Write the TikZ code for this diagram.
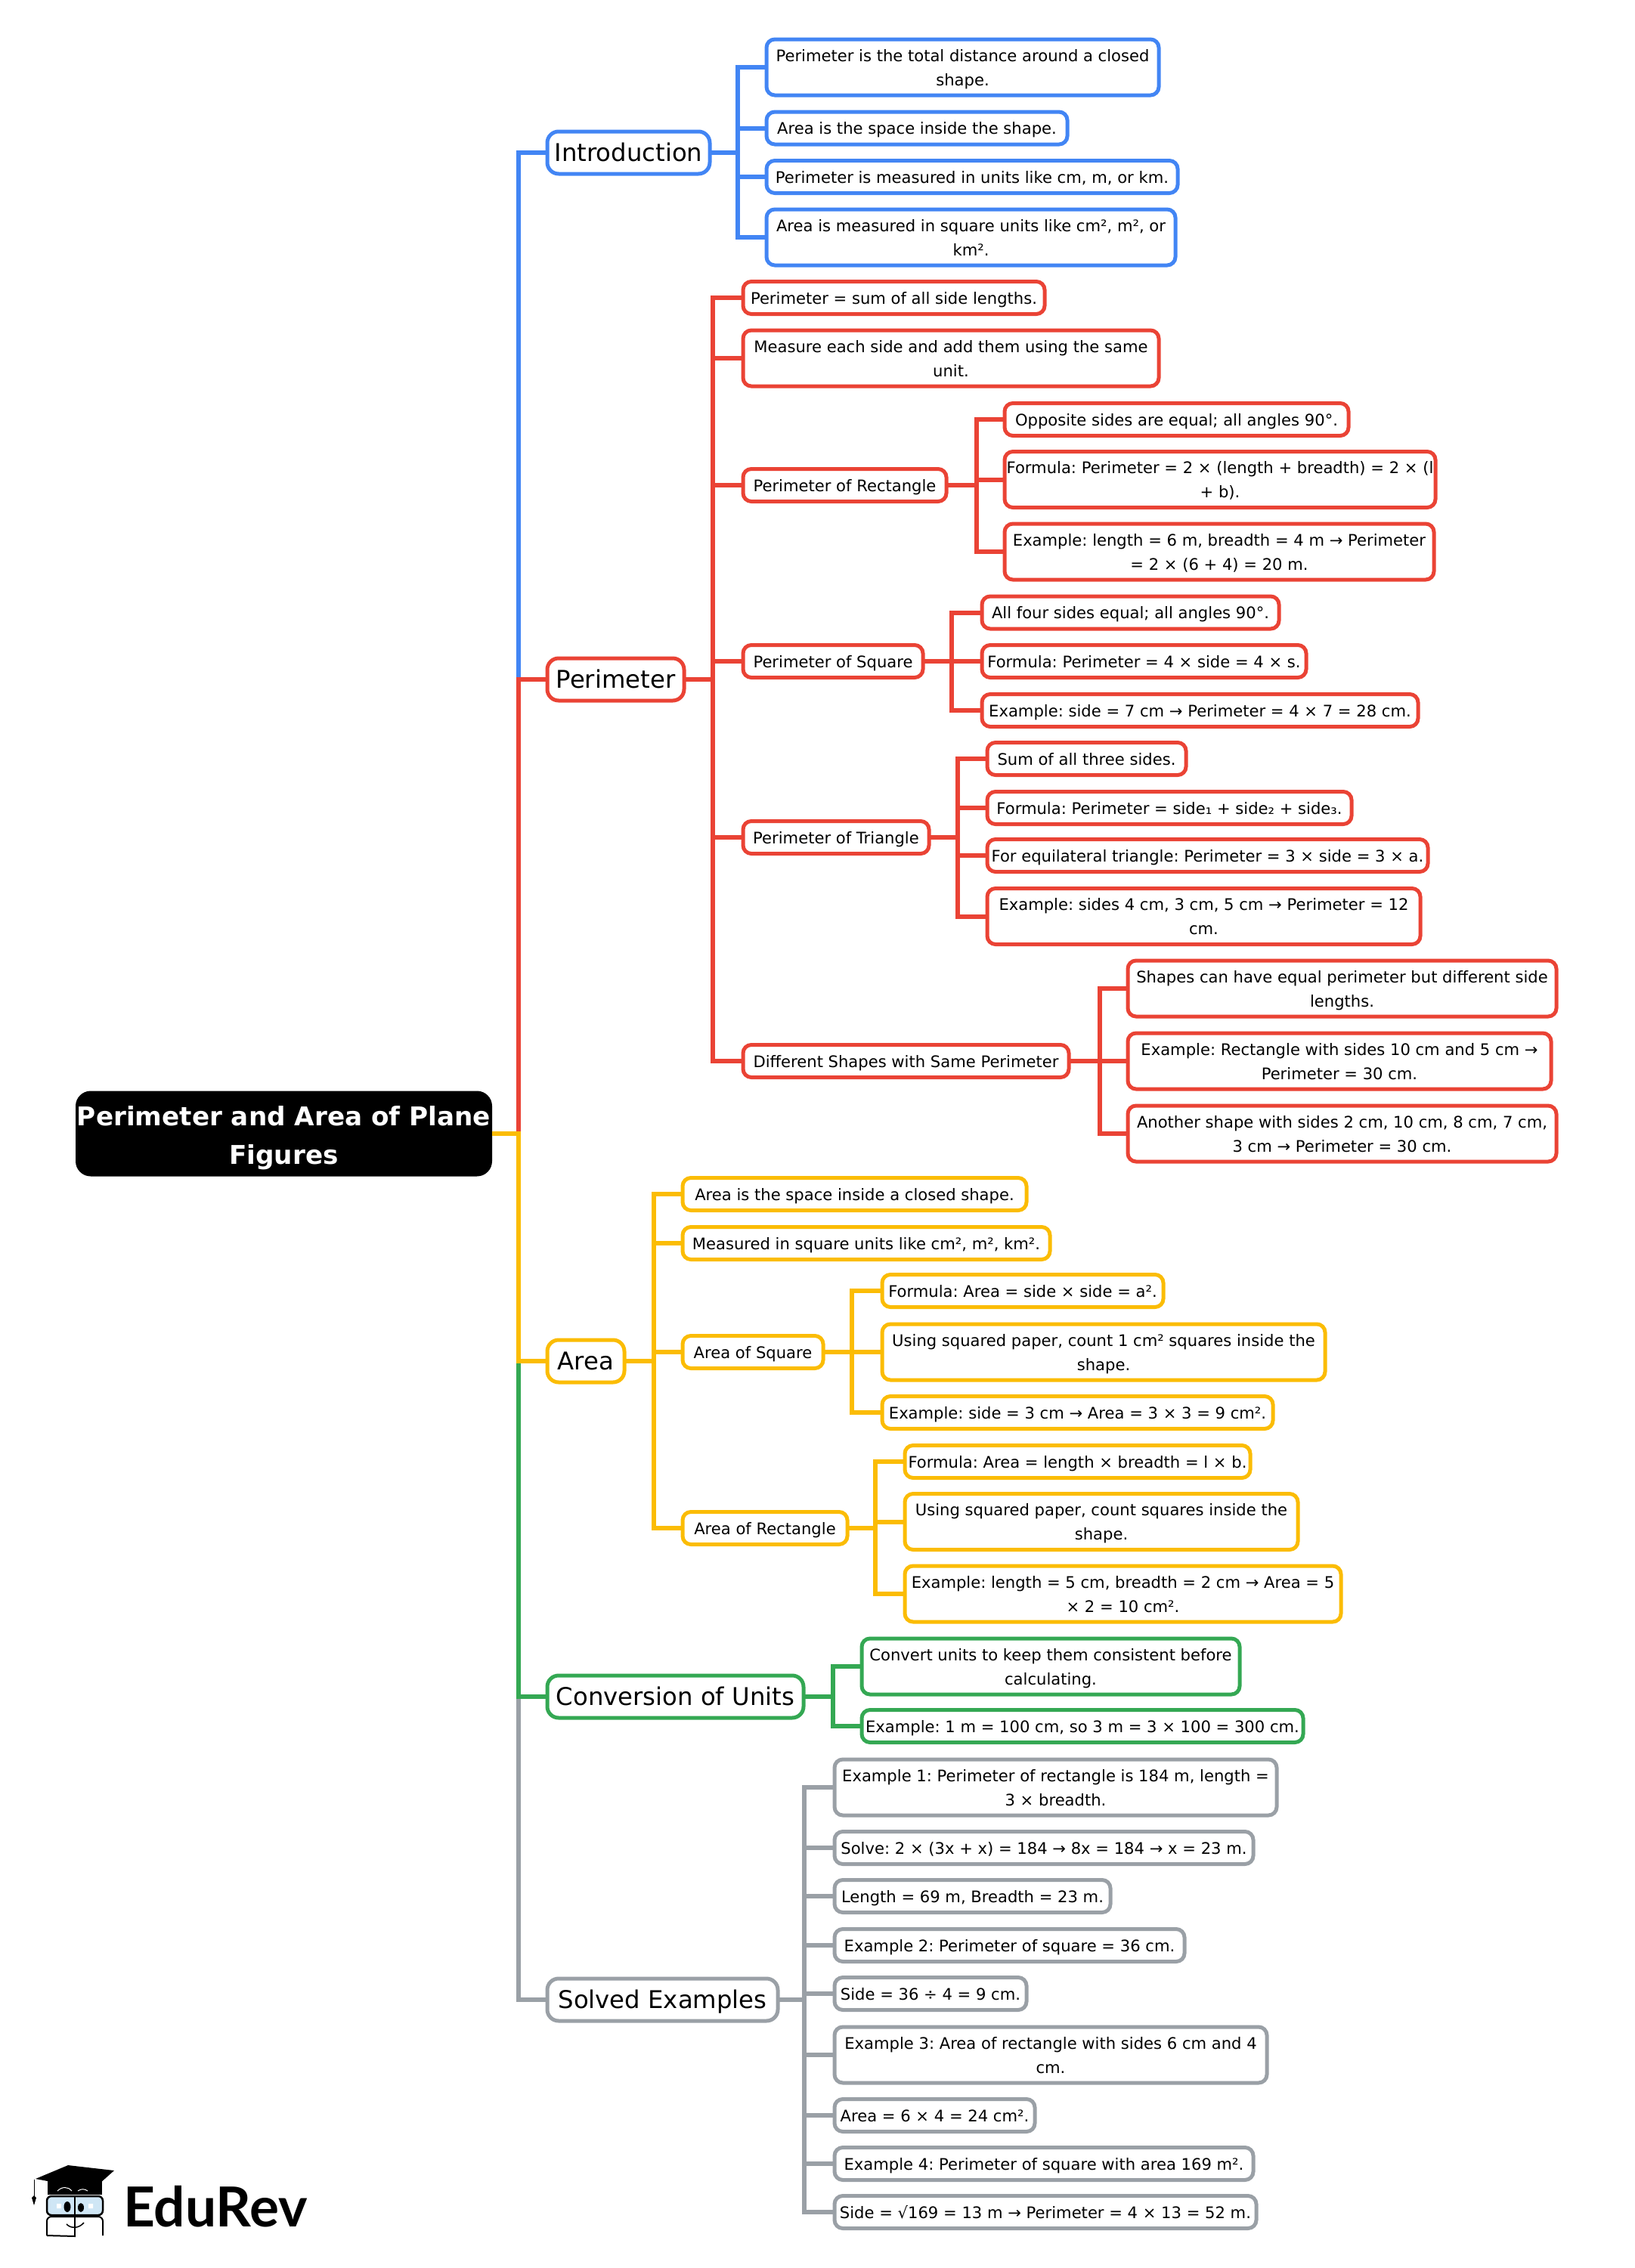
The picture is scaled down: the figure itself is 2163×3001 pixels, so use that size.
\documentclass[tikz,border=0pt]{standalone}
\usepackage{fontspec}
\setmainfont{DejaVu Sans}
\newfontfamily\logofont{Lato}
\definecolor{introblue}{HTML}{4285F4}
\definecolor{perired}{HTML}{EA4335}
\definecolor{areayellow}{HTML}{FBBC04}
\definecolor{convgreen}{HTML}{34A853}
\definecolor{solvedgrey}{HTML}{9AA0A6}
\definecolor{lensblue}{HTML}{CFE6F5}
\begin{document}
\frenchspacing
\begin{tikzpicture}[x=1pt,y=-1pt,
    box/.style={draw, fill=white, anchor=west, align=center, outer sep=0pt, inner sep=0pt,
      execute at end node=\strut},
    rootbox/.style={box, draw=none, fill=black, text=white, rounded corners=20pt, minimum height=113pt,
      font=\fontsize{34.2}{51}\selectfont\bfseries, execute at begin node=\rule{0pt}{97pt}},
    topic/.style={box, line width=5pt, rounded corners=15pt, minimum height=56pt,
      font=\fontsize{32.3}{40}\selectfont, execute at begin node=\rule{0pt}{34pt}},
    leaf/.style={box, line width=5pt, rounded corners=11pt, minimum height=43pt,
      font=\fontsize{21.1}{32}\selectfont, execute at begin node=\rule{0pt}{26pt}},
    leaftwo/.style={leaf, minimum height=74pt, execute at begin node=\rule{0pt}{58pt}},
    link/.style={line width=6pt}]
  \useasboundingbox (0,0) rectangle (2163,3001);

  \node[rootbox, minimum width=551pt] (root) at (100,1500) {Perimeter and Area of Plane\\Figures};

  % main branches
  \node[topic, draw=introblue, minimum width=215pt] (intro) at (724,202) {Introduction};
  \node[topic, draw=perired, minimum width=181pt] (perim) at (724,899) {Perimeter};
  \node[topic, draw=areayellow, minimum width=102pt] (area) at (724,1801) {Area};
  \node[topic, draw=convgreen, minimum width=339pt] (conv) at (724,2245) {Conversion of Units};
  \node[topic, draw=solvedgrey, minimum width=305pt] (solved) at (724,2646) {Solved Examples};

  % introduction
  \begin{scope}[every node/.append style={draw=introblue}]
    \node[leaftwo, minimum width=519pt] (introA) at (1014,89) {Perimeter is the total distance around a closed\\shape.};
    \node[leaf, minimum width=398pt] (introB) at (1014,169.5) {Area is the space inside the shape.};
    \node[leaf, minimum width=544pt] (introC) at (1014,234) {Perimeter is measured in units like cm, m, or km.};
    \node[leaftwo, minimum width=541pt] (introD) at (1014,314) {Area is measured in square units like cm², m², or\\km².};
  \end{scope}

  % perimeter
  \begin{scope}[every node/.append style={draw=perired}]
    \node[leaf, minimum width=399pt] (periA) at (983,394) {Perimeter = sum of all side lengths.};
    \node[leaftwo, minimum width=550pt] (periB) at (983,474) {Measure each side and add them using the same\\unit.};
    \node[leaf, minimum width=269pt] (rect) at (983,642) {Perimeter of Rectangle};
    \node[leaf, minimum width=238pt] (squ) at (983,875) {Perimeter of Square};
    \node[leaf, minimum width=246pt] (tri) at (983,1108) {Perimeter of Triangle};
    \node[leaf, minimum width=431pt] (same) at (983,1404) {Different Shapes with Same Perimeter};

    \node[leaf, minimum width=455pt] (rectA) at (1329,555) {Opposite sides are equal; all angles 90°.};
    \node[leaftwo, minimum width=570pt] (rectB) at (1329,634.5) {Formula: Perimeter = 2 × (length + breadth) = 2 × (l\\+ b).};
    \node[leaftwo, minimum width=568pt] (rectC) at (1329,730) {Example: length = 6 m, breadth = 4 m → Perimeter\\= 2 × (6 + 4) = 20 m.};

    \node[leaf, minimum width=393pt] (squA) at (1299,810.5) {All four sides equal; all angles 90°.};
    \node[leaf, minimum width=429pt] (squB) at (1299,875) {Formula: Perimeter = 4 × side = 4 × s.};
    \node[leaf, minimum width=577pt] (squC) at (1299,940) {Example: side = 7 cm → Perimeter = 4 × 7 = 28 cm.};

    \node[leaf, minimum width=263pt] (triA) at (1306,1004) {Sum of all three sides.};
    \node[leaf, minimum width=482pt] (triB) at (1306,1069) {Formula: Perimeter = side₁ + side₂ + side₃.};
    \node[leaf, minimum width=583pt] (triC) at (1306,1132) {For equilateral triangle: Perimeter = 3 × side = 3 × a.};
    \node[leaftwo, minimum width=573pt] (triD) at (1306,1212.5) {Example: sides 4 cm, 3 cm, 5 cm → Perimeter = 12\\cm.};

    \node[leaftwo, minimum width=567pt] (sameA) at (1492,1308) {Shapes can have equal perimeter but different side\\lengths.};
    \node[leaftwo, minimum width=560pt] (sameB) at (1492,1404) {Example: Rectangle with sides 10 cm and 5 cm →\\Perimeter = 30 cm.};
    \node[leaftwo, minimum width=567pt] (sameC) at (1492,1500) {Another shape with sides 2 cm, 10 cm, 8 cm, 7 cm,\\3 cm → Perimeter = 30 cm.};
  \end{scope}

  % area
  \begin{scope}[every node/.append style={draw=areayellow}]
    \node[leaf, minimum width=455pt] (areaA) at (903,1580) {Area is the space inside a closed shape.};
    \node[leaf, minimum width=486pt] (areaB) at (903,1645) {Measured in square units like cm², m², km².};
    \node[leaf, minimum width=186pt] (asq) at (903,1789) {Area of Square};
    \node[leaf, minimum width=218pt] (arec) at (903,2022) {Area of Rectangle};

    \node[leaf, minimum width=372pt] (asqA) at (1167,1708) {Formula: Area = side × side = a².};
    \node[leaftwo, minimum width=586pt] (asqB) at (1167,1789) {Using squared paper, count 1 cm² squares inside the\\shape.};
    \node[leaf, minimum width=517pt] (asqC) at (1167,1869) {Example: side = 3 cm → Area = 3 × 3 = 9 cm².};

    \node[leaf, minimum width=457pt] (arecA) at (1197,1934) {Formula: Area = length × breadth = l × b.};
    \node[leaftwo, minimum width=520pt] (arecB) at (1197,2013.5) {Using squared paper, count squares inside the\\shape.};
    \node[leaftwo, minimum width=577pt] (arecC) at (1197,2109) {Example: length = 5 cm, breadth = 2 cm → Area = 5\\× 2 = 10 cm².};
  \end{scope}

  % conversion
  \begin{scope}[every node/.append style={draw=convgreen}]
    \node[leaftwo, minimum width=500pt] (convA) at (1140,2205) {Convert units to keep them consistent before\\calculating.};
    \node[leaf, minimum width=584pt] (convB) at (1140,2284) {Example: 1 m = 100 cm, so 3 m = 3 × 100 = 300 cm.};
  \end{scope}

  % solved examples
  \begin{scope}[every node/.append style={draw=solvedgrey}]
    \node[leaftwo, minimum width=585pt] (solA) at (1104,2365) {Example 1: Perimeter of rectangle is 184 m, length =\\3 × breadth.};
    \node[leaf, minimum width=554pt] (solB) at (1104,2445) {Solve: 2 × (3x + x) = 184 → 8x = 184 → x = 23 m.};
    \node[leaf, minimum width=365pt] (solC) at (1104,2509) {Length = 69 m, Breadth = 23 m.};
    \node[leaf, minimum width=463pt] (solD) at (1104,2574) {Example 2: Perimeter of square = 36 cm.};
    \node[leaf, minimum width=254pt] (solE) at (1104,2638) {Side = 36 ÷ 4 = 9 cm.};
    \node[leaftwo, minimum width=572pt] (solF) at (1104,2719) {Example 3: Area of rectangle with sides 6 cm and 4\\cm.};
    \node[leaf, minimum width=265pt] (solG) at (1104,2799) {Area = 6 × 4 = 24 cm².};
    \node[leaf, minimum width=554pt] (solH) at (1104,2863) {Example 4: Perimeter of square with area 169 m².};
    \node[leaf, minimum width=558pt] (solI) at (1104,2927) {Side = √169 = 13 m → Perimeter = 4 × 13 = 52 m.};
  \end{scope}

  % elbows
  \coordinate (trunk) at (686,1500);
  \coordinate (tintro) at (976,202);
  \coordinate (tperim) at (943,899);
  \coordinate (trect) at (1292,642);
  \coordinate (tsqu) at (1259,875);
  \coordinate (ttri) at (1267,1108);
  \coordinate (tsame) at (1455,1404);
  \coordinate (tarea) at (865,1801);
  \coordinate (tasq) at (1127,1789);
  \coordinate (tarec) at (1158,2022);
  \coordinate (tconv) at (1102,2245);
  \coordinate (tsolved) at (1064,2646);

  \draw[link, introblue] (root.east) -- (trunk) |- (intro.west);
  \draw[link, perired] (root.east) -- (trunk) |- (perim.west);
  \draw[link, solvedgrey] (root.east) -- (trunk) |- (solved.west);
  \draw[link, convgreen] (root.east) -- (trunk) |- (conv.west);
  \draw[link, areayellow] (root.east) -- (trunk) |- (area.west);

  \draw[link, introblue] (intro.east) -- (tintro) |- (introA.west) (tintro) |- (introB.west)
    (tintro) |- (introC.west) (tintro) |- (introD.west);
  \draw[link, perired] (perim.east) -- (tperim) |- (periA.west) (tperim) |- (periB.west)
    (tperim) |- (rect.west) (tperim) |- (squ.west) (tperim) |- (tri.west) (tperim) |- (same.west);
  \draw[link, perired] (rect.east) -- (trect) |- (rectA.west) (trect) |- (rectB.west) (trect) |- (rectC.west);
  \draw[link, perired] (squ.east) -- (tsqu) |- (squA.west) (tsqu) |- (squB.west) (tsqu) |- (squC.west);
  \draw[link, perired] (tri.east) -- (ttri) |- (triA.west) (ttri) |- (triB.west) (ttri) |- (triC.west) (ttri) |- (triD.west);
  \draw[link, perired] (same.east) -- (tsame) |- (sameA.west) (tsame) |- (sameB.west) (tsame) |- (sameC.west);
  \draw[link, areayellow] (area.east) -- (tarea) |- (areaA.west) (tarea) |- (areaB.west)
    (tarea) |- (asq.west) (tarea) |- (arec.west);
  \draw[link, areayellow] (asq.east) -- (tasq) |- (asqA.west) (tasq) |- (asqB.west) (tasq) |- (asqC.west);
  \draw[link, areayellow] (arec.east) -- (tarec) |- (arecA.west) (tarec) |- (arecB.west) (tarec) |- (arecC.west);
  \draw[link, convgreen] (conv.east) -- (tconv) |- (convA.west) (tconv) |- (convB.west);
  \draw[link, solvedgrey] (solved.east) -- (tsolved) |- (solA.west) (tsolved) |- (solB.west) (tsolved) |- (solC.west)
    (tsolved) |- (solD.west) (tsolved) |- (solE.west) (tsolved) |- (solF.west) (tsolved) |- (solG.west)
    (tsolved) |- (solH.west) (tsolved) |- (solI.west);

  % logo
  \node[anchor=base west, inner sep=0pt, font=\fontsize{73}{73}\logofont\bfseries] (logo) at (163,2946) {EduRev};
  \fill[black] (63,2886) -- (63,2904) -- (135,2904) -- (135,2886) -- cycle;
  \fill[black] (47,2883) -- (90,2865) -- (151,2872) -- (123,2897) -- (63,2886) -- cycle;
  \draw[line width=1pt] (45,2884) -- (45,2908);
  \fill[black] (45,2918) -- (42,2908) -- (45,2905) -- (48,2908) -- cycle;
  \draw[white, line width=1pt] (76,2899) .. controls (82,2893) and (90,2893) .. (95,2899);
  \draw[white, line width=1pt] (103,2899) .. controls (107,2896) and (112,2896) .. (116,2899);
  \draw[line width=2.5pt, fill=lensblue, rounded corners=6pt] (62,2906) rectangle (136,2931);
  \draw[line width=2pt, rounded corners=6pt] (62,2958) -- (62,2933) -- (136,2933) -- (136,2958);
  \draw[line width=2pt] (62,2958) -- (100,2959);
  \draw[line width=2pt] (99,2905) -- (99,2960);
  \fill[white] (75,2916) rectangle (81,2922) (117,2916) rectangle (123,2922);
  \fill[black] (89,2920) ellipse [x radius=4.5, y radius=7];
  \fill[black] (107,2921) ellipse [x radius=4, y radius=6];
  \draw[line width=1.5pt] (88,2943) .. controls (94,2949) and (104,2949) .. (111,2941);
\end{tikzpicture}
\end{document}
